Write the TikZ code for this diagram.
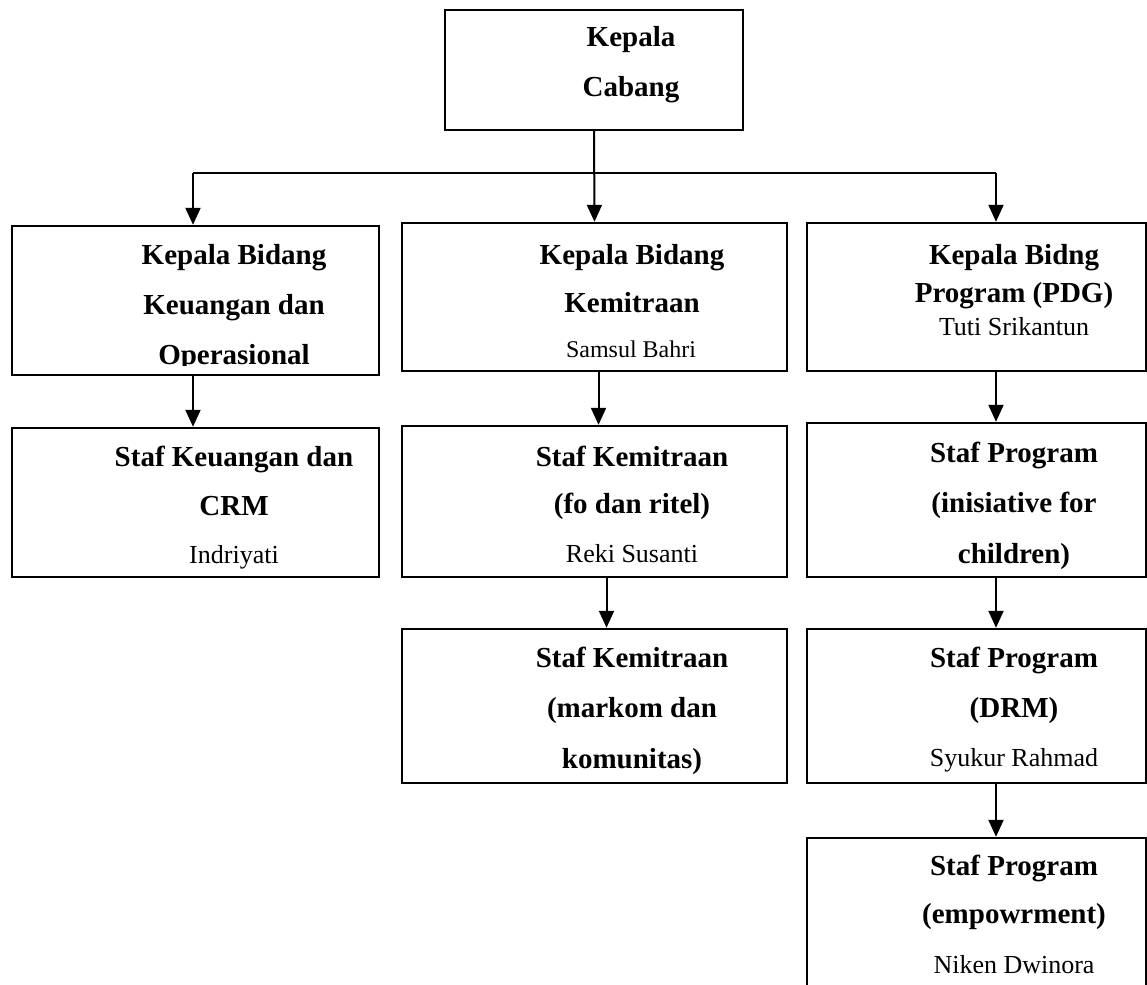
\documentclass[tikz,border=0pt]{standalone}
\usepackage{fontspec}
\setmainfont{Liberation Serif}
\usetikzlibrary{arrows.meta}
\begin{document}
\begin{tikzpicture}[x=1pt,y=-1pt,
  box/.style={draw=black,line width=2.4pt,rectangle,inner sep=0pt,fill=none},
  arr/.style={line width=2pt,-{Triangle[length=17pt,width=15pt]}},
  ln/.style={line width=2pt},
  bt/.style={anchor=base,inner sep=0pt,font=\fontsize{29}{34}\selectfont\bfseries},
  rt/.style={anchor=base,inner sep=0pt,font=\fontsize{26}{30}\selectfont},
  st/.style={anchor=base,inner sep=0pt,font=\fontsize{24}{28}\selectfont}]
\useasboundingbox (0,0) rectangle (1147,984);
\clip (0,0) rectangle (1147,984);
% boxes
\node[box,minimum width=298pt,minimum height=120pt] (kc) at (594,70) {};
\node[box,minimum width=367pt,minimum height=149pt] (b1L) at (195.5,300.5) {};
\node[box,minimum width=385pt,minimum height=148pt] (b1M) at (594.5,297) {};
\node[box,minimum width=339pt,minimum height=148pt] (b1R) at (976.5,297) {};
\node[box,minimum width=367pt,minimum height=149pt] (b2L) at (195.5,502.5) {};
\node[box,minimum width=385pt,minimum height=151pt] (b2M) at (594.5,501.5) {};
\node[box,minimum width=339pt,minimum height=154pt] (b2R) at (976.5,500) {};
\node[box,minimum width=385pt,minimum height=154pt] (b3M) at (594.5,706) {};
\node[box,minimum width=339pt,minimum height=154pt] (b3R) at (976.5,706) {};
\node[box,minimum width=339pt,minimum height=162pt] (b4R) at (976.5,919) {};
% texts
\node[bt] (t1) at (631,47) {Kepala};
\node[bt] (t2) at (631,97) {Cabang};
\node[bt] (t3) at (234,264) {Kepala Bidang};
\node[bt] (t4) at (234,314) {Keuangan dan};
\begin{scope}
\clip (14,228) rectangle (377,365);
\node[bt] (t5) at (234,364) {Operasional};
\end{scope}
\node[bt] (t6) at (632,264) {Kepala Bidang};
\node[bt] (t7) at (632,312) {Kemitraan};
\node[st] (t8) at (631,357) {Samsul Bahri};
\node[bt] (t9) at (1014,264) {Kepala Bidng};
\node[bt] (t10) at (1014,302) {Program (PDG)};
\node[rt] (t11) at (1014,335) {Tuti Srikantun};
\node[bt] (t12) at (234,466) {Staf Keuangan dan};
\node[bt] (t13) at (234,515) {CRM};
\node[rt] (t14) at (234,563) {Indriyati};
\node[bt] (t15) at (632,466) {Staf Kemitraan};
\node[bt] (t16) at (632,513) {(fo dan ritel)};
\node[rt] (t17) at (632,562) {Reki Susanti};
\node[bt] (t18) at (1014,462) {Staf Program};
\node[bt] (t19) at (1014,512) {(inisiative for};
\node[bt] (t20) at (1014,563) {children)};
\node[bt] (t21) at (632,667) {Staf Kemitraan};
\node[bt] (t22) at (632,717) {(markom dan};
\node[bt] (t23) at (632,768) {komunitas)};
\node[bt] (t24) at (1014,667) {Staf Program};
\node[bt] (t25) at (1014,717) {(DRM)};
\node[rt] (t26) at (1014,766) {Syukur Rahmad};
\node[bt] (t27) at (1014,875) {Staf Program};
\node[bt] (t28) at (1014,923) {(empowrment)};
\node[rt] (t29) at (1014,973) {Niken Dwinora};
% connectors
\coordinate (hl) at (193,173);
\coordinate (hr) at (996,173);
\draw[ln] (hl) -- (hr);
\draw[arr] (kc.south) -- (b1M.north);
\draw[arr] (hl) -- (b1L.north -| hl);
\draw[arr] (hr) -- (b1R.north -| hr);
\draw[arr] (b1L.south -| hl) -- (b2L.north -| hl);
\draw[arr] ([xshift=4pt]b1M.south) -- ([xshift=4pt]b2M.north);
\draw[arr] (b1R.south -| hr) -- (b2R.north -| hr);
\draw[arr] ([xshift=12pt]b2M.south) -- ([xshift=12pt]b3M.north);
\draw[arr] (b2R.south -| hr) -- (b3R.north -| hr);
\draw[arr] (b3R.south -| hr) -- (b4R.north -| hr);
\end{tikzpicture}
\end{document}
